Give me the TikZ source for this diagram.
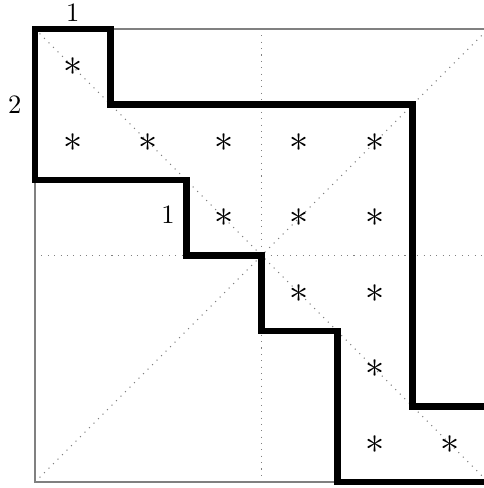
\documentclass[tikz,border=0pt]{standalone}
\begin{document}
\begin{tikzpicture}[
    x=1cm, y=-1cm,
    frame/.style={gray, line width=0.5pt},
    guide/.style={dotted, gray},
    block/.style={line width=2.6pt, line cap=rect},
    entry/.style={inner sep=0pt, font=\fontsize{13.5}{16}\selectfont}
]
\useasboundingbox (-0.464,-0.384) rectangle (5.934,6.079);

% Frame and guides
\draw[frame] (6,0) -- (0,0) -- (0,6) -- (6,6);
\draw[guide] (0,0) -- (6,6);
\draw[guide] (0,6) -- (6,0);
\draw[guide] (3,0) -- (3,6);
\draw[guide] (0,3) -- (6,3);

% Block boundaries
\draw[block] (6.2,5) -- (5,5) -- (5,1) -- (1,1) -- (1,0) -- (0,0) -- (0,2) -- (2,2) -- (2,3) -- (3,3) -- (3,4) -- (4,4) -- (4,6) -- (6.2,6);

% Labels
\node (top) at (0.5,-0.22) {1};
\node (left) at (-0.27,1) {2};
\node (mid) at (1.76,2.46) {1};

% Entries
\node[entry] (e00) at (0.5,0.5) {$\ast$};
\node[entry] (e10) at (0.5,1.5) {$\ast$};
\node[entry] (e11) at (1.5,1.5) {$\ast$};
\node[entry] (e12) at (2.5,1.5) {$\ast$};
\node[entry] (e13) at (3.5,1.5) {$\ast$};
\node[entry] (e14) at (4.5,1.5) {$\ast$};
\node[entry] (e22) at (2.5,2.5) {$\ast$};
\node[entry] (e23) at (3.5,2.5) {$\ast$};
\node[entry] (e24) at (4.5,2.5) {$\ast$};
\node[entry] (e33) at (3.5,3.5) {$\ast$};
\node[entry] (e34) at (4.5,3.5) {$\ast$};
\node[entry] (e44) at (4.5,4.5) {$\ast$};
\node[entry] (e54) at (4.5,5.5) {$\ast$};
\node[entry] (e55) at (5.5,5.5) {$\ast$};

\end{tikzpicture}
\end{document}
